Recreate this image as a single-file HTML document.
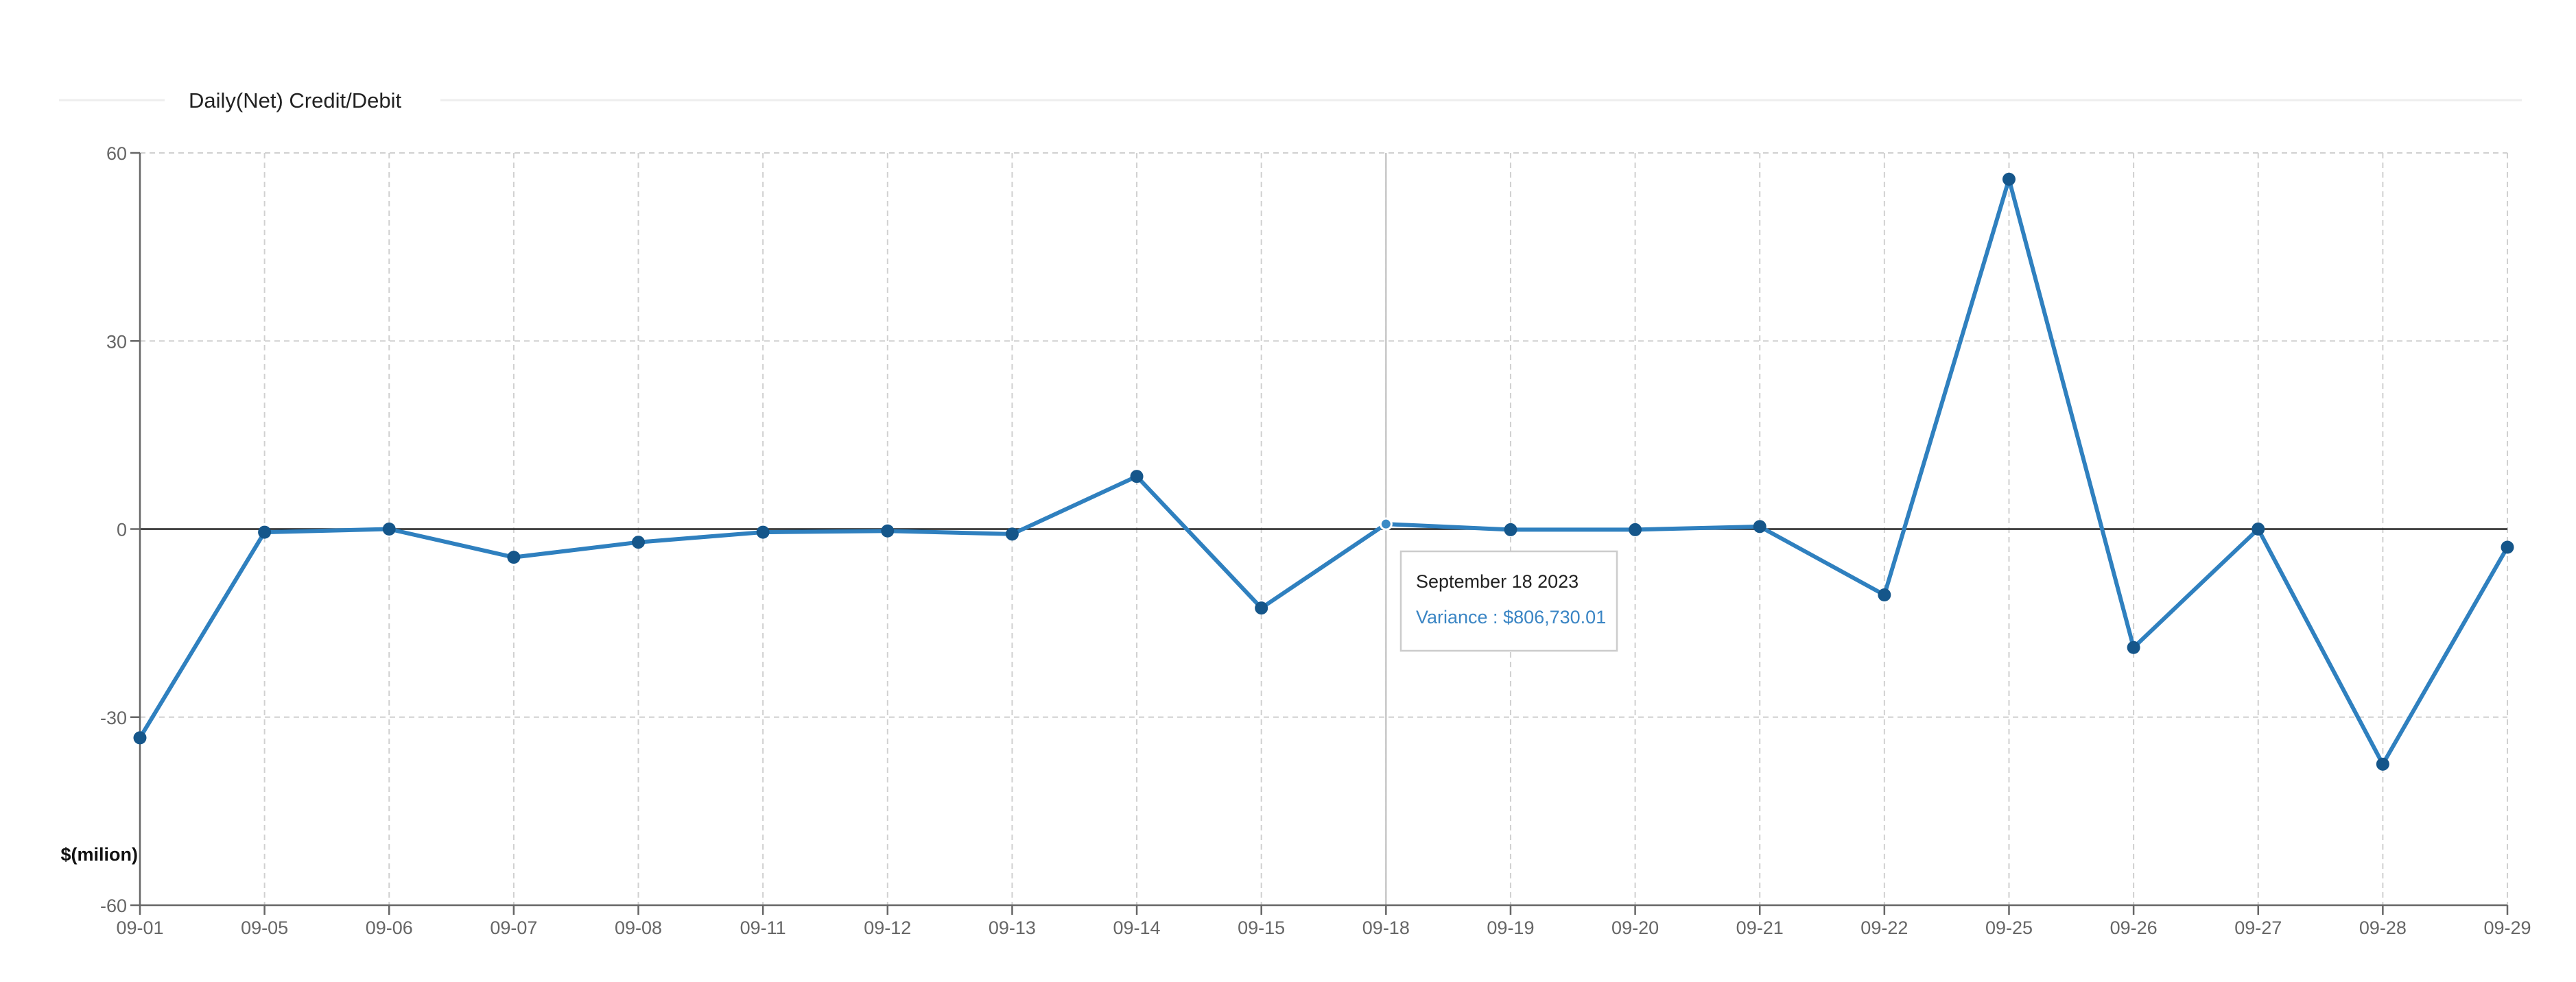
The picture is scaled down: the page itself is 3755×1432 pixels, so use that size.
<!DOCTYPE html>
<html><head><meta charset="utf-8">
<style>
html,body{margin:0;padding:0;background:#fff;}
svg{display:block;font-family:"Liberation Sans","DejaVu Sans",sans-serif;}
</style></head>
<body>
<svg id="chart" width="3755" height="1432" viewBox="0 0 3755 1432" xmlns="http://www.w3.org/2000/svg">
  <line x1="86" y1="146" x2="240" y2="146" stroke="#eeeeee" stroke-width="3"/>
  <line x1="642" y1="146" x2="3676" y2="146" stroke="#eeeeee" stroke-width="3"/>
  <text x="275" y="157" font-size="31" fill="#222">Daily(Net) Credit/Debit</text>
  <g id="grid"></g>
  <g id="axes"></g>
  <g id="series"></g>
  <g id="tooltip"></g>
</svg>
<script>
const categories = ["09-01","09-05","09-06","09-07","09-08","09-11","09-12","09-13","09-14","09-15","09-18","09-19","09-20","09-21","09-22","09-25","09-26","09-27","09-28","09-29"];
const values = [-33.3,-0.5,0,-4.5,-2.1,-0.5,-0.3,-0.8,8.4,-12.6,0.8,-0.1,-0.1,0.4,-10.5,55.8,-18.9,0,-37.5,-2.9];
const yTicks = [-60,-30,0,30,60];
const hoverIndex = 10;
const tooltipTitle = "September 18 2023";
const tooltipText = "Variance : $806,730.01";

const NS = "http://www.w3.org/2000/svg";
const L = 204, R = 3655, T = 223, B = 1320, yMin = -60, yMax = 60;
function xS(i){ return L + (R - L) * i / (categories.length - 1); }
function yS(v){ return B - (v - yMin) / (yMax - yMin) * (B - T); }
function mk(tag, attrs, parent){
  const e = document.createElementNS(NS, tag);
  for (const k in attrs) e.setAttribute(k, attrs[k]);
  parent.appendChild(e);
  return e;
}
const grid = document.getElementById('grid');
const axes = document.getElementById('axes');
const series = document.getElementById('series');
const tip = document.getElementById('tooltip');

categories.forEach((c, i) => {
  const x = xS(i);
  if (i > 0) {
    const g = mk('line', {x1:x, y1:T, x2:x, y2:B, stroke:'#d0d0d0', 'stroke-width':2, 'stroke-dasharray':'8,6'}, grid);
    
    
  }
  const tk = mk('line', {x1:x, y1:B, x2:x, y2:B+14, stroke:'#666', 'stroke-width':2.5}, axes);
  
  
  const t = mk('text', {x:x, y:B+42, 'font-size':27, fill:'#666', 'text-anchor':'middle'}, axes);
  t.textContent = c;
  
  
});
yTicks.forEach(v => {
  const y = yS(v);
  if (v !== yMin) {
    const g = mk('line', {x1:L, y1:y, x2:R, y2:y, stroke: v === 0 ? '#222' : '#d0d0d0', 'stroke-width': v === 0 ? 2.5 : 2, 'stroke-dasharray': v === 0 ? 'none' : '8,6'}, grid);
    
    
  }
  const tk = mk('line', {x1:L-14, y1:y, x2:L, y2:y, stroke:'#666', 'stroke-width':2.5}, axes);
  
  
  const t = mk('text', {x:L-19, y:y+10, 'font-size':27, fill:'#666', 'text-anchor':'end'}, axes);
  t.textContent = v;
  
  
});
const ya = mk('line', {x1:L, y1:T, x2:L, y2:B, stroke:'#666', 'stroke-width':2.5}, axes);


const xa = mk('line', {x1:L, y1:B, x2:R, y2:B, stroke:'#666', 'stroke-width':2.5}, axes);


const yt = mk('text', {x:201, y:1255, 'font-size':27, 'font-weight':'bold', fill:'#111', 'text-anchor':'end'}, axes);
yt.textContent = '$(milion)';



const hx = xS(hoverIndex);
const hl = mk('line', {x1:hx, y1:T, x2:hx, y2:B, stroke:'#c8c8c8', 'stroke-width':2.5}, grid);



const path = mk('polyline', {points: values.map((v,i)=>xS(i)+','+yS(v)).join(' '), fill:'none', stroke:'#2f80bf', 'stroke-width':6, 'stroke-linejoin':'round'}, series);


values.forEach((v,i) => {
  const hov = i === hoverIndex;
  const c = mk('circle', {cx:xS(i), cy:yS(v), r: hov ? 8 : 9.5, fill: hov ? '#3a8ac6' : '#15568a', stroke: hov ? '#fff' : 'none', 'stroke-width': hov ? 3 : 0}, series);
  
  
});

const box = mk('rect', {x:2042, y:804, width:315, height:145, fill:'#fff', stroke:'#cccccc', 'stroke-width':2.5}, tip);


const t1 = mk('text', {x:2064, y:857, 'font-size':27, fill:'#222'}, tip);
t1.textContent = tooltipTitle;


const t2 = mk('text', {x:2064, y:909, 'font-size':27, fill:'#3a85c4'}, tip);
t2.textContent = tooltipText;


</script>
</body></html>
